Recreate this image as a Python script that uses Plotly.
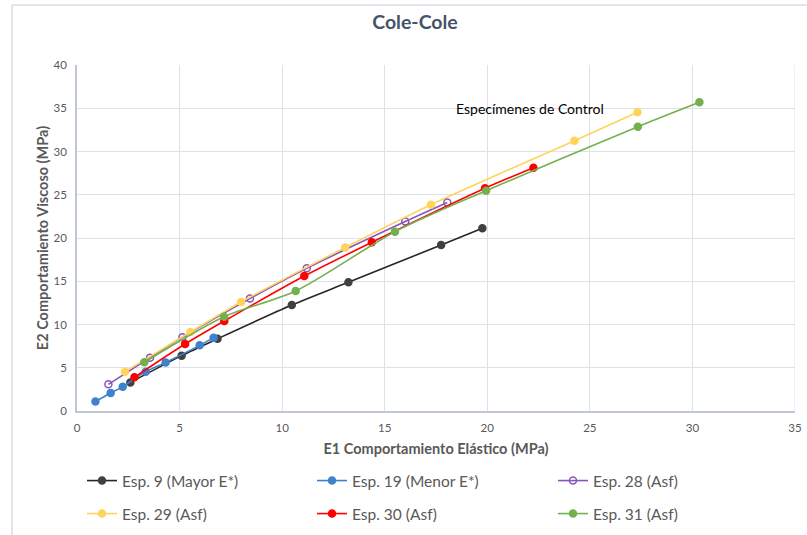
import plotly.graph_objects as go

# Data (E1, E2) in MPa per specimen
esp9_x = [2.6, 5.1, 6.85, 10.47, 13.23, 17.75, 19.76]
esp9_y = [3.3, 6.4, 8.35, 12.25, 14.88, 19.19, 21.12]

esp19_x = [0.9, 1.64, 2.23, 3.35, 4.32, 5.98, 6.66]
esp19_y = [1.1, 2.08, 2.81, 4.55, 5.62, 7.59, 8.48]

esp28_x = [1.53, 3.56, 5.14, 8.43, 11.2, 16.0, 18.05]
esp28_y = [3.08, 6.17, 8.52, 13.0, 16.5, 21.9, 24.1]

esp29_x = [2.34, 5.53, 8.0, 13.07, 17.25, 24.25, 27.32]
esp29_y = [4.55, 9.13, 12.6, 18.9, 23.85, 31.25, 34.53]

esp30_x = [2.8, 5.27, 7.18, 11.08, 14.37, 19.89, 22.25]
esp30_y = [3.9, 7.74, 10.4, 15.6, 19.5, 25.75, 28.13]

esp31_x = [3.28, 7.17, 10.66, 15.5, 19.94, 27.34, 30.34]
esp31_y = [5.63, 10.9, 13.87, 20.73, 25.47, 32.87, 35.69]

names = ["Esp. 9 (Mayor E*)", "Esp. 19 (Menor E*)", "Esp. 28 (Asf)",
         "Esp. 29 (Asf)", "Esp. 30 (Asf)", "Esp. 31 (Asf)"]
colors = ["#262626", "#3E82CC", "#8656BC", "#FFD45C", "#FF0000", "#74B04E"]
marker_colors = ["#404040", "#3E82CC", "#8656BC", "#FFD45C", "#FF0000", "#74B04E"]
symbols = ["circle", "circle", "circle-open", "circle", "circle", "circle"]
xs = [esp9_x, esp19_x, esp28_x, esp29_x, esp30_x, esp31_x]
ys = [esp9_y, esp19_y, esp28_y, esp29_y, esp30_y, esp31_y]

x_ticks = [0, 5, 10, 15, 20, 25, 30, 35]
y_ticks = [0, 5, 10, 15, 20, 25, 30, 35, 40]

FONT = "Lato, Calibri, 'Liberation Sans', sans-serif"
TXT = "#595959"

legend_ids = ["legend", "legend2", "legend3", "legend4", "legend5", "legend6"]
# legend slot positions (container px): columns and rows
leg_cols = [82, 312, 553]
leg_rows = [481, 514]

fig = go.Figure()
for x, y, n, c, mc, s, lg in zip(xs, ys, names, colors, marker_colors, symbols, legend_ids):
    fig.add_trace(go.Scatter(
        x=x, y=y, name=n, mode="lines+markers", legend=lg,
        line=dict(color=c, width=1.6, shape="spline", smoothing=0.8),
        marker=dict(color=mc, size=7, symbol=s,
                    line=dict(color=mc, width=1.5)),
    ))

fig.add_annotation(x=22.1, y=35.0, text="Especímenes de Control",
                   showarrow=False, font=dict(family=FONT, size=14, color="#000000"))

# chart area frame (top & left edges visible)
TOPY = (411 - 5) / 346
LEFTX = (12 - 77) / 718
fig.add_shape(type="line", xref="paper", yref="paper",
              x0=LEFTX, x1=1.1, y0=TOPY, y1=TOPY,
              line=dict(color="#D9DEE6", width=1.5))
fig.add_shape(type="line", xref="paper", yref="paper", x0=LEFTX, x1=LEFTX,
              y0=-0.4, y1=TOPY, line=dict(color="#D9DEE6", width=1.5))
fig.add_shape(type="line", xref="x", yref="paper", x0=35, x1=35, y0=0, y1=1,
              line=dict(color="#DCE1EA", width=1))

legends = {}
for i, lg in enumerate(legend_ids):
    legends[lg] = dict(orientation="h", xref="container", yref="container",
                       x=leg_cols[i % 3] / 807, y=1 - leg_rows[i // 3] / 535,
                       xanchor="left", yanchor="middle",
                       font=dict(size=15.5, color=TXT), itemwidth=30,
                       bgcolor="rgba(0,0,0,0)")

fig.update_layout(
    width=807, height=535,
    margin=dict(l=77, r=12, t=65, b=124, autoexpand=False),
    paper_bgcolor="white", plot_bgcolor="white",
    font=dict(family=FONT, color=TXT, size=12),
    title=dict(text="<b>Cole-Cole</b>", x=415/807, xref="container", xanchor="center",
               y=1 - 22/535, yref="container", yanchor="middle",
               font=dict(family=FONT, size=19.5, color="#44546A")),
    xaxis=dict(range=[0, 35], tickvals=x_ticks, showgrid=True, gridcolor="#DCE1EA",
               gridwidth=1, showline=True, linecolor="#BFC7D3", linewidth=1.5,
               zeroline=False, ticks="", tickfont=dict(size=11.5, color=TXT),
               ticklabelstandoff=5, automargin=False,
               title=dict(text="<b>E1 Comportamiento Elástico (MPa)</b>", standoff=11,
                          font=dict(size=14.5, color=TXT))),
    yaxis=dict(range=[0, 40], tickvals=y_ticks, showgrid=True, gridcolor="#DCE1EA",
               gridwidth=1, showline=True, linecolor="#BFC7D3", linewidth=1.5,
               zeroline=False, ticks="", tickfont=dict(size=11.5, color=TXT),
               ticklabelstandoff=6, automargin=False,
               title=dict(text="<b>E2 Comportamiento Viscoso (MPa)</b>", standoff=2,
                          font=dict(size=14.5, color=TXT))),
    showlegend=True,
    **legends,
)

fig.write_html("out.html", config={"displayModeBar": False},
               post_script="document.body.style.margin='0';document.body.style.overflow='hidden';")
